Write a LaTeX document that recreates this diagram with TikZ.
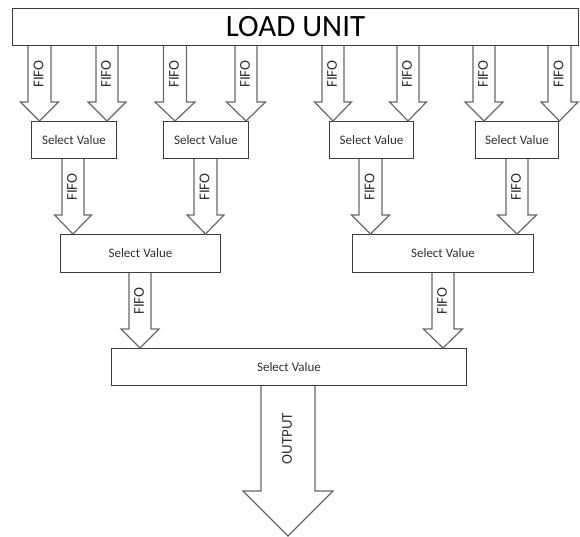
\documentclass[tikz,border=0pt]{standalone}
\usepackage{fontspec}
\setmainfont{Carlito}
\usetikzlibrary{calc}
\definecolor{boxline}{HTML}{3C3C3C}
\definecolor{arrline}{HTML}{686868}
\definecolor{txt}{HTML}{303030}
\tikzset{
  box/.style={draw=boxline, line width=1pt, rectangle, anchor=north west, inner sep=0pt, text=txt,
    font=\fontsize{13}{13}\selectfont},
  arrowline/.style={draw=arrline, line width=1.2pt, line join=miter},
  fifolabel/.style={rotate=90, inner sep=0pt, text=txt, font=\fontsize{15}{15}\selectfont},
}
% #1 source anchor, #2 target point, #3 x centre, #4 half shaft, #5 half head, #6 head length, #7 label
\newcommand\blockarrow[7]{%
  \draw[arrowline] let \p1=(#1), \p2=(#2) in
    (#3pt-#4pt,\y1) -- (#3pt-#4pt,\y2+#6pt) -- (#3pt-#5pt,\y2+#6pt) -- (#3pt,\y2)
    -- (#3pt+#5pt,\y2+#6pt) -- (#3pt+#4pt,\y2+#6pt) -- (#3pt+#4pt,\y1)
    (#3pt-1pt,{0.5*(\y1+\y2+#6pt)}) node[fifolabel] {#7};
}
\begin{document}
\begin{tikzpicture}[x=1pt,y=-1pt]
\useasboundingbox (0,0) rectangle (580,537);
% boxes
\node[box, minimum width=566pt, minimum height=37pt, font=\fontsize{31}{31}\selectfont, text=black] (LU) at (12,8) {LOAD UNIT};
\node[box, minimum width=85pt, minimum height=37pt] (B1) at (31,121) {Select Value};
\node[box, minimum width=85pt, minimum height=37pt] (B2) at (163,121) {Select Value};
\node[box, minimum width=84pt, minimum height=37pt] (B3) at (329,121) {Select Value};
\node[box, minimum width=83pt, minimum height=37pt] (B4) at (475,121) {Select Value};
\node[box, minimum width=160pt, minimum height=38pt] (M1) at (60,234) {Select Value};
\node[box, minimum width=181pt, minimum height=38pt] (M2) at (352,234) {Select Value};
\node[box, minimum width=355pt, minimum height=37pt] (F) at (111,348) {Select Value};
\coordinate (out) at (288,536);
% top arrows
\blockarrow{LU.south}{B1.north}{39.5}{11.5}{19}{19}{FIFO}
\blockarrow{LU.south}{B1.north}{107}{11}{19}{19}{FIFO}
\blockarrow{LU.south}{B2.north}{175}{11.5}{20}{19}{FIFO}
\blockarrow{LU.south}{B2.north}{246}{11}{19.5}{19}{FIFO}
\blockarrow{LU.south}{B3.north}{333}{11}{18.5}{19}{FIFO}
\blockarrow{LU.south}{B3.north}{408}{11}{18.5}{19}{FIFO}
\blockarrow{LU.south}{B4.north}{484}{11}{19}{19}{FIFO}
\blockarrow{LU.south}{B4.north}{559.5}{11.5}{18.5}{19}{FIFO}
% middle arrows
\blockarrow{B1.south}{M1.north}{73}{11}{18.5}{19}{FIFO}
\blockarrow{B2.south}{M1.north}{205.5}{11.5}{18.5}{19}{FIFO}
\blockarrow{B3.south}{M2.north}{370.5}{11.5}{19}{19}{FIFO}
\blockarrow{B4.south}{M2.north}{517}{11}{19.5}{19}{FIFO}
% third level
\blockarrow{M1.south}{F.north}{140}{11}{19}{19}{FIFO}
\blockarrow{M2.south}{F.north}{443}{11}{19.5}{19}{FIFO}
% output
\blockarrow{F.south}{out}{288}{27}{45}{45}{OUTPUT}
\end{tikzpicture}
\end{document}
